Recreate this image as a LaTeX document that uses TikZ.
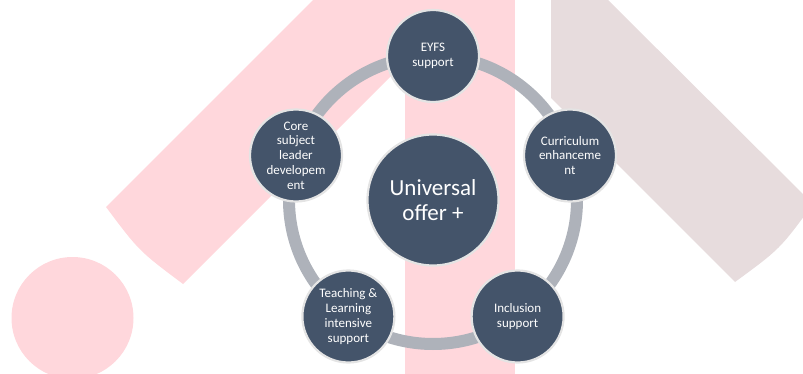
\documentclass[tikz,border=0pt]{standalone}
\usepackage{fontspec}
\setmainfont{Carlito}
\usepackage{xcolor}
\usepackage{tikz}
\usetikzlibrary{positioning, calc}

\definecolor{logopink}{HTML}{FFD7DC}
\definecolor{logomauve}{HTML}{E7DCDD}
\definecolor{ringgray}{HTML}{AEB2BA}
\definecolor{nodeslate}{HTML}{44546A}
\definecolor{rimgray}{HTML}{E4E4E4}

\begin{document}
\begin{tikzpicture}[x=1pt, y=-1pt,
        spoke/.style={circle, draw=rimgray, line width=2.2pt, fill=nodeslate,
                text=white, align=center, minimum size=92pt, inner sep=0pt,
                font=\fontsize{13}{14.7}\selectfont},
        hubnode/.style={spoke, minimum size=131pt, font=\fontsize{23}{25.5}\selectfont},
        ring/.style={draw=ringgray, line width=12pt}]

        \useasboundingbox (0,0) rectangle (803,374);
        \clip (0,0) rectangle (803,374);

        % Background logo shapes
        \fill[logopink] (405,0) rectangle (515,374);
        \fill[logopink] (313,0) -- (106,207) .. controls (139,251) .. (183,284) -- (467,0) -- cycle;
        \fill[logopink] (72.5,318) circle (61pt);
        \fill[logomauve] (551,0) -- (551,98) -- (735,282) .. controls (780,249) .. (813,204) -- (608,0) -- cycle;

        % Centre of the cycle
        \node[hubnode] (hub) at (433,200) {Universal\\offer +};

        % Ring joining the outer circles
        \draw[ring] (hub.center) circle (144pt);

        % Outer circles, clockwise from the top
        \node[spoke] (eyfs) at (433,56) {EYFS\\support};
        \node[spoke] (curric) at (570,155.5) {Curriculum\\enhanceme\\nt};
        \node[spoke] (incl) at (517.6,316.5) {Inclusion\\support};
        \node[spoke] (teach) at (348.4,316.5) {Teaching \&\\Learning\\intensive\\support};
        \node[spoke] (core) at (296,155.5) {Core\\subject\\leader\\developem\\ent};
  \end{tikzpicture}
\end{document}
